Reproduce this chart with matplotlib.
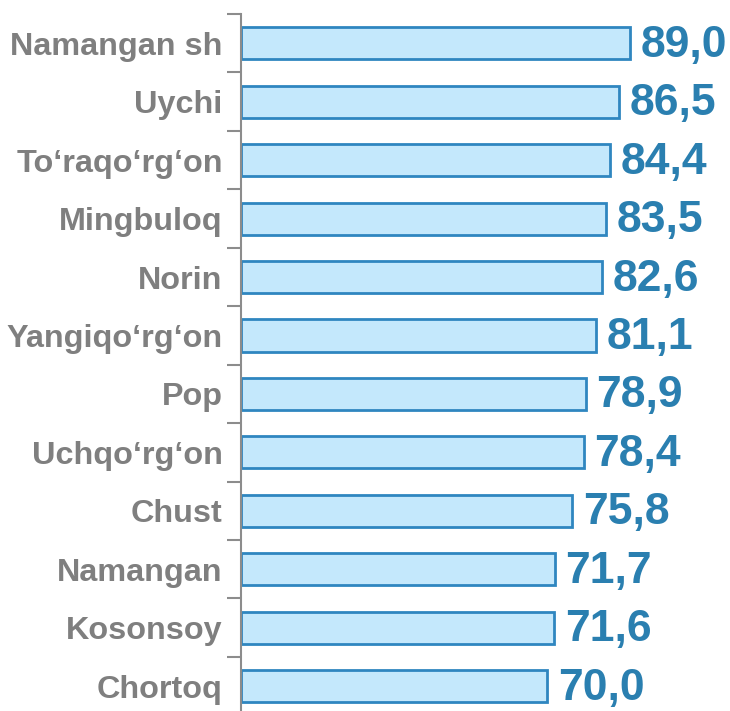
import matplotlib
matplotlib.use("Agg")
import matplotlib.pyplot as plt
import numpy as np

categories = ["Namangan sh", "Uychi", "To\u2018raqo\u2018rg\u2018on", "Mingbuloq", "Norin",
              "Yangiqo\u2018rg\u2018on", "Pop", "Uchqo\u2018rg\u2018on", "Chust", "Namangan",
              "Kosonsoy", "Chortoq"]
values = [89.0, 86.5, 84.4, 83.5, 82.6, 81.1, 78.9, 78.4, 75.8, 71.7, 71.6, 70.0]

plt.rcParams['font.family'] = ['Liberation Sans', 'DejaVu Sans']

fig = plt.figure(figsize=(7.30, 7.11), dpi=100)
ax = fig.add_axes([0.3308, 0.0, 0.670, 0.9803])

y = np.arange(len(categories))
ax.barh(y, values, height=0.55, color="#c4e8fc", edgecolor="#2f86c0", linewidth=2)

for yi, v in zip(y, values):
    ax.text(v + 2.4, yi + 0.035, f"{v:.1f}".replace(".", ","), va="center", ha="left",
            fontsize=32, fontweight="bold", color="#2a7fb0")

ax.set_xlim(0, 112)
ax.set_ylim(11.425, -0.5)

ax.set_yticks(y)
ax.set_yticklabels(categories, fontsize=23.3, fontweight="bold", color="#7f7f7f")
ax.tick_params(axis="y", which="major", length=0, pad=13.5)
ax.set_yticks(np.arange(-0.5, len(categories) - 1, 1.0), minor=True)
ax.tick_params(axis="y", which="minor", length=10, width=1.5, color="#8c8c8c")

ax.set_xticks([])
for s in ["top", "right", "bottom"]:
    ax.spines[s].set_visible(False)
ax.spines["left"].set_color("#8c8c8c")
ax.spines["left"].set_linewidth(1.5)

fig.savefig("out.png", dpi=100)
